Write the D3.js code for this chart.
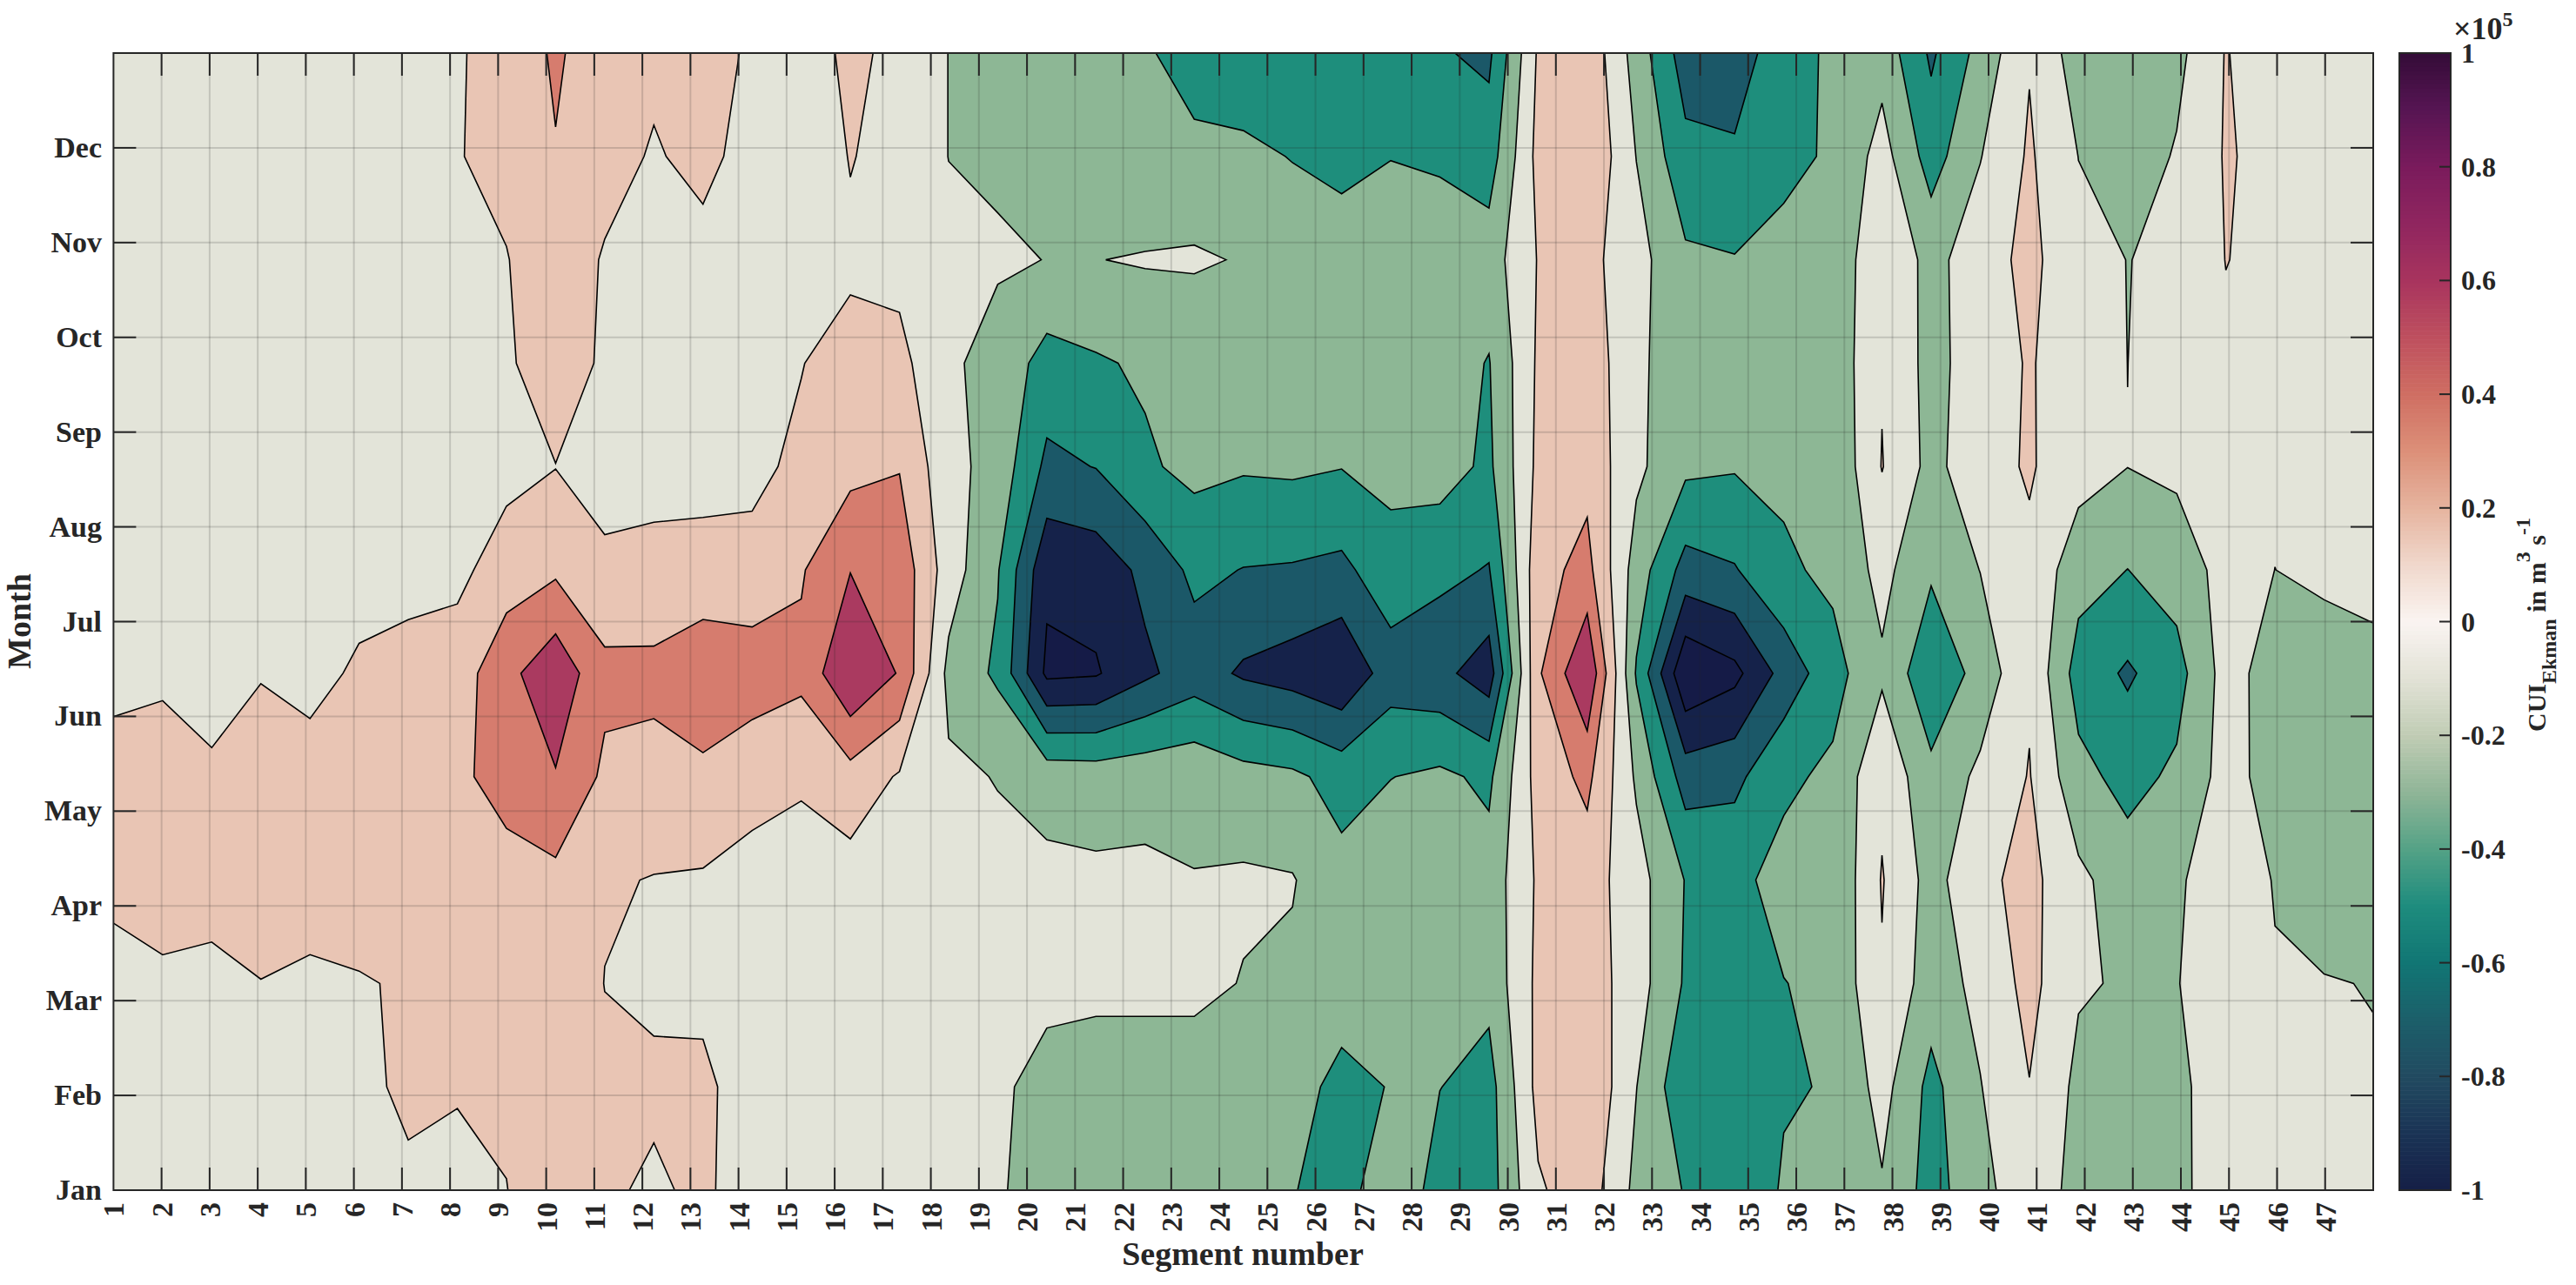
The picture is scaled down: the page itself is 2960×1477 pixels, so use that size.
<!DOCTYPE html>
<html><head><meta charset="utf-8">
<script src="https://cdn.jsdelivr.net/npm/d3@7/dist/d3.min.js"></script>
<style>html,body{margin:0;padding:0;background:#fff}svg{display:block}text{font-family:"Liberation Serif",serif;font-weight:bold;fill:#262626}</style>
</head><body><svg id="c" width="2960" height="1477"></svg>
<script>
// CUI values per data column (Jan-side row first), in units of 0.25 x 10^5 m^3 s^-1
const cuiColumns = [
[-.6,-.6,-.56,.4,.5,-.36,-.5,-.5,-.5,-.5,-.5,-.5],
[-.6,-.6,-.23,.6,.5,-.18,-.5,-.5,-.5,-.5,-.5,-.5],
[-.6,-.6,-.4,.6,.3,-.77,-.6,-.5,-.5,-.5,-.5,-.5],
[-.6,-.6,-.03,.7,.6,-.067,-.5,-.5,-.5,-.5,-.5,-.5],
[-.5,-.5,-.27,.7,.5,-.39,-.5,-.5,-.5,-.5,-.5,-.5],
[-.5,-.45,-.095,.7,.6,.19,-.465,-.5,-.5,-.5,-.5,-.5],
[-.33,.35,.13,.6,.5,.4,-.37,-.5,-.5,-.5,-.5,-.5],
[-.75,.2,.5,.6,.6,.51,-.25,-.4,-.4,-.4,-.05,-.13],
[-.02,.16,.6,.22,1.78,1.7,.5,-.31,-.15,-.045,.3,.54],
[.65,.8,.9,.74,1.93,2.72,.83,-.02,.6,.7,.96,1.1],
[.11,.23,-.02,.1,.82,1.24,.3,-.58,-.17,-.1,.4,.6],
[-.11,.13,-.135,-.04,.68,1.25,.3,-.35,-.4,-.4,-.1,.23],
[.15,.2,-.235,-.1,.77,1.76,.3,-.29,-.4,-.35,.3,.4],
[-.43,-.47,-.5,-.23,.25,1.61,.25,-.19,-.4,-.5,-.41,-.14],
[-.6,-.6,-.6,-.62,.19,1.23,.91,.17,-.03,-.5,-.78,-.67],
[-.5,-.5,-.5,-.41,.62,2.99,1.97,.7,.39,-.2,.05,.3],
[-.5,-.5,-.5,-.5,-.1,1.92,1.66,.95,.29,-.3,-.37,-.35],
[-.7,-.7,-.7,-.7,-.84,-1.27,-.5,-.69,-.85,-.8,-1.01,-1.01],
[-.88,-.83,-.7,-.785,-1.035,-2.18,-1.93,-1.37,-1.32,-.9,-1.12,-1.3],
[-1.48,-1.33,-.75,-.757,-1.38,-5.21,-4.77,-3.23,-2.4,-1.013,-1.5,-1.5],
[-1.5,-1.32,-.85,-.825,-1.45,-5.1,-4.6,-2.97,-2.115,-1.02,-1.6,-1.6],
[-1.5,-1.32,-.85,-.82,-1.34,-4.2,-3.76,-2.15,-1.86,-.92,-1.9,-1.8],
[-1.6,-1.49,-.77,-.97,-1.24,-3.51,-2.77,-1.73,-1.64,-.9,-1.6,-2.71],
[-1.6,-1.5,-1.04,-.87,-1.62,-4.15,-3.03,-1.9,-1.5,-1.054,-1.7,-2.9],
[-1.93,-1.47,-1.17,-.94,-1.8,-4.45,-3.09,-1.84,-1.5,-1.22,-2.05,-2.9],
[-2.6,-2.4,-1.35,-1.68,-2.38,-4.89,-3.24,-1.97,-1.6,-1.47,-2.3,-2.9],
[-1.05,-1.94,-1.5,-1.37,-2.02,-3.48,-2.39,-1.72,-1.5,-1.3,-2.03,-2.9],
[-2.49,-1.98,-1.5,-1.5,-1.81,-3.72,-2.75,-1.575,-1.55,-1.4,-2.15,-2.91],
[-2.44,-2.4,-1.7,-1.6,-2.2,-4.54,-3.06,-2.2,-2.05,-1.5,-2.5,-3.2],
[-.12,.31,.23,.15,.4,.86,.65,.24,.15,.05,.3,.13],
[.54,.98,.56,.48,1.25,2.95,1.31,.7,.63,.31,.98,.78],
[-1.26,-.98,-.56,-.59,-1.15,-2.1,-1.46,-.78,-.8,-.63,-1.02,-1.42],
[-2.06,-2.76,-2.12,-2.04,-3.45,-5.9,-3.38,-1.79,-1.57,-1.83,-2.71,-3.5],
[-2.73,-2.9,-2.5,-2.25,-3.25,-5.28,-3.07,-1.92,-1.7,-1.95,-2.86,-3.5],
[-1.9,-2.08,-2.02,-1.67,-2.2,-3.64,-2.18,-1.79,-1.7,-1.88,-2.1,-2.44],
[-1.7,-1.94,-1.8,-1.9,-1.8,-2.385,-1.77,-1.87,-1.7,-1.7,-1.95,-1.82],
[-1.1,-.63,-.09,.063,-.2,-1.16,-.7,.04,-.07,-.2,-.6,-1.375],
[-2.39,-2.3,-1.5,-1.37,-1.74,-2.77,-1.86,-1.3,-1.34,-1.3,-2.45,-3.16],
[-1.34,-1.04,-.73,-.23,-.78,-1.65,-.98,-.36,-.47,-.47,-1.04,-1.67],
[-.3,-.03,.3,.29,.05,-.13,-.2,.096,.077,.28,.13,-.07],
[-1.38,-1.24,-.9,-.78,-1.7,-2.43,-1.62,-.59,-.52,-.757,-1.01,-1.5],
[-1.6,-1.6,-1.1,-1.52,-2.32,-3.14,-2.01,-.99,-1.003,-1.01,-1.57,-1.7],
[-1.35,-1.3,-1.02,-1.11,-1.82,-2.39,-1.54,-.81,-.7,-.9,-.907,-1.28],
[-.22,-.3,-.7,-.54,-.63,-.6,-.66,-.5,-.18,.02,.079,.05],
[-.7,-.7,-.95,-1.04,-1.4,-1.45,-1.003,-.9,-.6,-.23,-.265,-.58],
[-.7,-.8,-.97,-1.3,-1.5,-1.37,-.85,-.8,-.7,-.7,-.7,-.7],
[-.7,-.95,-1.02,-1.4,-1.5,-1.19,-.8,-.7,-.7,-.7,-.7,-.7]
];
const contourLevels = [-5,-4,-3,-2,-1,0,1,2];
const bandColors = ["#151B47","#15224A","#1B5868","#1E8E7C","#8DB795","#E3E4D9","#E9C5B4","#D67C6E","#AA3A60"];
const segmentTicks = d3.range(1,48);
const monthTicks = ["Jan","Feb","Mar","Apr","May","Jun","Jul","Aug","Sep","Oct","Nov","Dec"];
const barTicks = [-1,-0.8,-0.6,-0.4,-0.2,0,0.2,0.4,0.6,0.8,1];
const rampValues = [-1,-.9,-.8,-.7,-.6,-.5,-.4,-.3,-.2,-.1,0,.1,.2,.3,.4,.5,.6,.7,.8,.9,1];
const rampColors = ["#151F46","#1A3355","#214A60","#1C5F6A","#117674","#1E8C7E","#54A286","#8FB597","#C0CCB4","#E2E2D6","#FAF4F1","#F0D8CC","#E6B49F","#DC9079","#CF6E62","#BE4F5E","#A8345E","#90265F","#7A1B5C","#571553","#340C38"];

const L=130.4,R=2727,T=61,B=1368,CL=2757,CR=2816;
const svg=d3.select("#c");
const nx=cuiColumns.length, ny=cuiColumns[0].length;
const xData=d3.scaleLinear().domain([0,nx-1]).range([L,R]);
const yData=d3.scaleLinear().domain([0,ny-1]).range([B,T]);
const xTick=d3.scaleLinear().domain([1,48]).range([L,R]);
const yTick=d3.scaleLinear().domain([0,12]).range([B,T]);
const yBar=d3.scaleLinear().domain([-1,1]).range([B,T]);
const ramp=d3.scaleLinear().domain(rampValues).range(rampColors);

svg.append("clipPath").attr("id","plot").append("rect").attr("x",L).attr("y",T).attr("width",R-L).attr("height",B-T);
const values=[];
for(let j=0;j<ny;j++)for(let i=0;i<nx;i++)values.push(cuiColumns[i][j]);
const contours=d3.contours().size([nx,ny]).smooth(true).thresholds(contourLevels)(values);
const path=d3.geoPath(d3.geoTransform({point(x,y){this.stream.point(xData(x-.5),yData(y-.5));}}));
const g=svg.append("g").attr("clip-path","url(#plot)");
g.append("rect").attr("x",L).attr("y",T).attr("width",R-L).attr("height",B-T).attr("fill",bandColors[0]);
g.selectAll("path.f").data(contours).join("path").attr("class","f").attr("d",path)
 .attr("fill",(d,i)=>bandColors[i+1]);
g.selectAll("path.s").data(contours).join("path").attr("class","s").attr("d",path)
 .attr("fill","none").attr("stroke","#000").attr("stroke-width",1.6).attr("stroke-linejoin","miter");

// grid
const grid=svg.append("g").attr("stroke","#262626").attr("stroke-opacity",.17).attr("stroke-width",2);
segmentTicks.slice(1).forEach(s=>grid.append("line").attr("x1",xTick(s)).attr("x2",xTick(s)).attr("y1",T).attr("y2",B));
monthTicks.slice(1).forEach((m,i)=>grid.append("line").attr("x1",L).attr("x2",R).attr("y1",yTick(i+1)).attr("y2",yTick(i+1)));

// ticks and box
const ax=svg.append("g").attr("stroke","#262626").attr("stroke-width",2);
segmentTicks.slice(1).forEach(s=>{
  ax.append("line").attr("x1",xTick(s)).attr("x2",xTick(s)).attr("y1",B).attr("y2",B-26);
  ax.append("line").attr("x1",xTick(s)).attr("x2",xTick(s)).attr("y1",T).attr("y2",T+26);
});
monthTicks.slice(1).forEach((m,i)=>{
  const y=yTick(i+1);
  ax.append("line").attr("x1",L).attr("x2",L+26).attr("y1",y).attr("y2",y);
  ax.append("line").attr("x1",R).attr("x2",R-26).attr("y1",y).attr("y2",y);
});
svg.append("rect").attr("x",L).attr("y",T).attr("width",R-L).attr("height",B-T).attr("fill","none").attr("stroke","#262626").attr("stroke-width",2);

// tick labels
segmentTicks.forEach(s=>{
  svg.append("text").text(s).attr("font-size",34).attr("text-anchor","end")
   .attr("transform",`translate(${xTick(s)+12},1382) rotate(-90)`);
});
monthTicks.forEach((m,i)=>{
  svg.append("text").text(m).attr("font-size",34).attr("text-anchor","end")
   .attr("x",117).attr("y",yTick(i)+11);
});
svg.append("text").text("Segment number").attr("font-size",38).attr("text-anchor","middle").attr("x",1428).attr("y",1454);
svg.append("text").text("Month").attr("font-size",38).attr("text-anchor","middle")
 .attr("transform",`translate(35,714) rotate(-90)`);

// colour bar
const barG=svg.append("g");
d3.range(0,262).forEach(k=>{
  const v=-1+2*(k+.5)/262;
  const y0=yBar(-1+2*(k+1)/262), y1=yBar(-1+2*k/262);
  barG.append("rect").attr("x",CL).attr("width",CR-CL).attr("y",y0).attr("height",y1-y0+.6).attr("fill",ramp(v));
});
svg.append("rect").attr("x",CL).attr("y",T).attr("width",CR-CL).attr("height",B-T).attr("fill","none").attr("stroke","#262626").attr("stroke-width",2);
barTicks.forEach(v=>{
  if(Math.abs(v)<1) svg.append("line").attr("x1",CR).attr("x2",CR-13).attr("y1",yBar(v)).attr("y2",yBar(v)).attr("stroke","#262626").attr("stroke-width",2);
  svg.append("text").text(v).attr("font-size",32).attr("x",2828).attr("y",yBar(v)+11);
});
const mag=svg.append("text").attr("x",2819).attr("y",45).attr("font-size",36);
mag.append("tspan").text("×10");
mag.append("tspan").text("5").attr("font-size",24).attr("dy",-15);

const lab=svg.append("text").attr("font-size",30).attr("transform","translate(2925,841) rotate(-90)");
lab.append("tspan").text("CUI");
lab.append("tspan").text("Ekman").attr("font-size",24).attr("dy",12);
lab.append("tspan").text(" in m").attr("dy",-12);
lab.append("tspan").text("3").attr("font-size",24).attr("dy",-18);
lab.append("tspan").text(" s").attr("dy",18);
lab.append("tspan").text("-1").attr("font-size",24).attr("dy",-18);
</script></body></html>
